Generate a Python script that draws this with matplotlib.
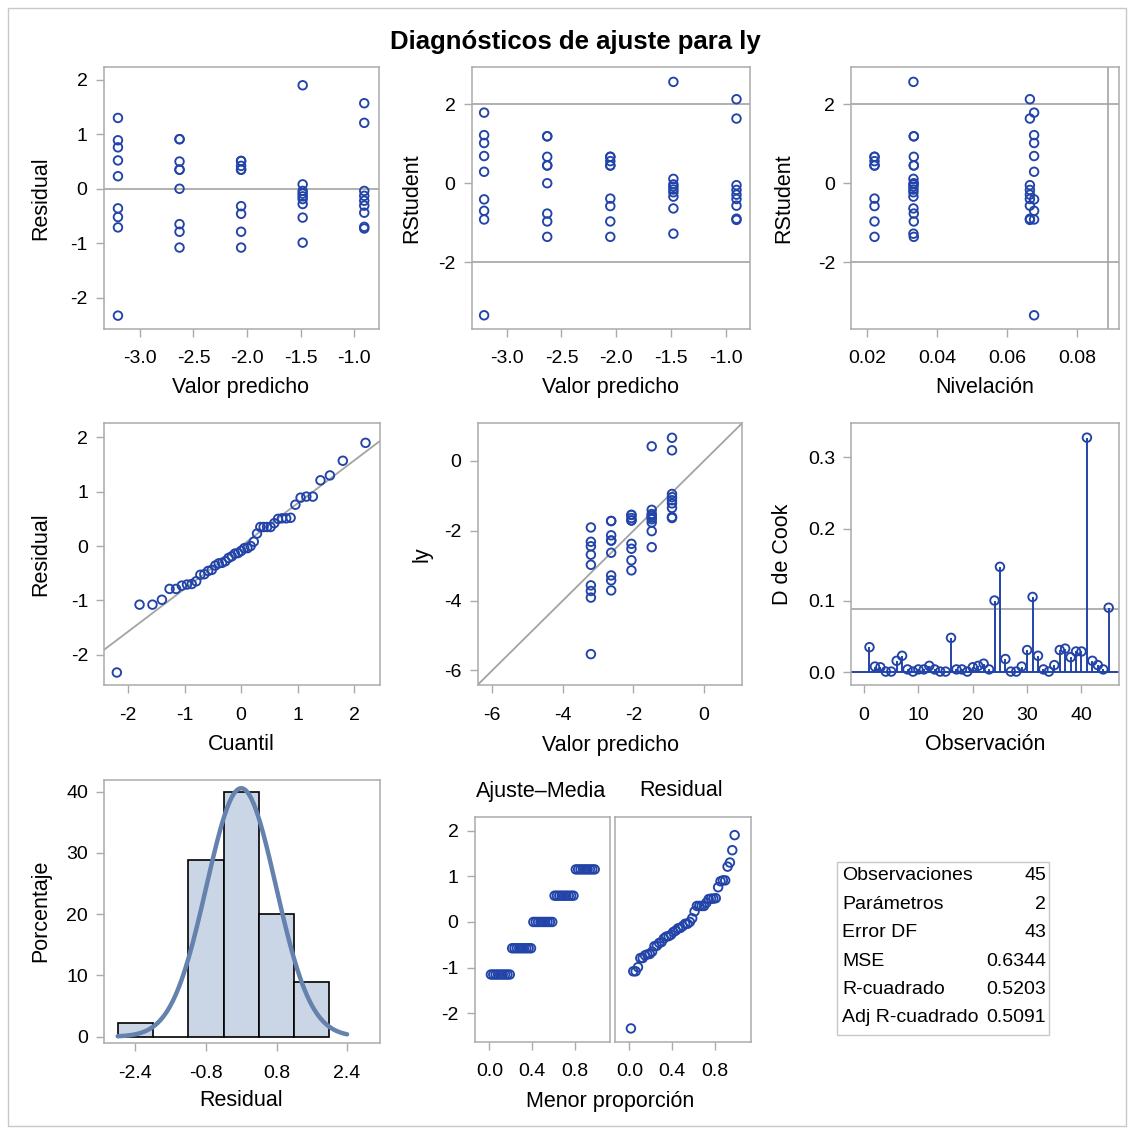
import numpy as np
import matplotlib
matplotlib.use('Agg')
import matplotlib.pyplot as plt
from matplotlib.patches import Rectangle
from matplotlib.ticker import FormatStrFormatter
from statistics import NormalDist

plt.rcParams['font.family'] = ['Liberation Sans', 'DejaVu Sans']
plt.rcParams['axes.unicode_minus'] = False

# ---------------- data ----------------
pred_levels = [-3.205, -2.630, -2.055, -1.480, -0.905]
leverage_levels = [0.0677, 0.0334, 0.0222, 0.0333, 0.0665]

resid_g1 = [1.30, 0.89, 0.76, 0.52, 0.23, -0.36, -0.52, -0.71, -2.33]
resid_g2 = [0.91, 0.91, 0.50, 0.35, 0.35, 0.00, -0.65, -0.79, -1.08]
resid_g3 = [0.51, 0.51, 0.42, 0.35, 0.35, -0.32, -0.46, -0.79, -1.08]
resid_g4 = [1.90, 0.08, -0.04, -0.09, -0.14, -0.19, -0.28, -0.53, -0.99]
resid_g5 = [1.57, 1.21, -0.04, -0.13, -0.22, -0.31, -0.44, -0.70, -0.73]

rstud_g1 = [1.79, 1.22, 1.02, 0.69, 0.29, -0.41, -0.70, -0.92, -3.35]
rstud_g2 = [1.19, 1.19, 0.67, 0.45, 0.45, 0.00, -0.77, -0.97, -1.36]
rstud_g3 = [0.67, 0.67, 0.56, 0.45, 0.45, -0.39, -0.58, -0.97, -1.36]
rstud_g4 = [2.57, 0.11, -0.03, -0.09, -0.16, -0.23, -0.34, -0.64, -1.28]
rstud_g5 = [2.13, 1.64, -0.05, -0.17, -0.29, -0.40, -0.57, -0.90, -0.93]

cooks_d = [0.035, 0.008, 0.007, 0.001, 0.001, 0.016, 0.023, 0.004, 0.001, 0.004,
           0.004, 0.009, 0.004, 0.001, 0.001, 0.048, 0.004, 0.004, 0.001, 0.007,
           0.009, 0.012, 0.004, 0.100, 0.147, 0.0185, 0.001, 0.001, 0.008, 0.031,
           0.105, 0.023, 0.004, 0.001, 0.010, 0.031, 0.033, 0.021, 0.029, 0.029,
           0.327, 0.016, 0.010, 0.004, 0.090]

rstud_cutoff = 2.0
leverage_cutoff = 0.0889
cook_cutoff = 0.0889
root_mse = 0.787
hist_edges = [-2.8, -2.0, -1.2, -0.4, 0.4, 1.2, 2.0]

stats_labels = ['Observaciones', 'Parámetros', 'Error DF', 'MSE', 'R-cuadrado', 'Adj R-cuadrado']
stats_values = ['45', '2', '43', '0.6344', '0.5203', '0.5091']

# ---------------- assemble ----------------
resid_groups = [resid_g1, resid_g2, resid_g3, resid_g4, resid_g5]
rstud_groups = [rstud_g1, rstud_g2, rstud_g3, rstud_g4, rstud_g5]
resid = np.concatenate(resid_groups)
rstud = np.concatenate(rstud_groups)
pred = np.concatenate([[p] * len(g) for p, g in zip(pred_levels, resid_groups)])
lev = np.concatenate([[h] * len(g) for h, g in zip(leverage_levels, resid_groups)])
observed = pred + resid
n = len(resid)

BLUE = '#2244A8'
REF = '#A3A3A3'
FRAME = '#ABABAB'
HIST_FILL = '#CAD5E6'
CURVE = '#6482AD'

W, H = 1134, 1133
fig = plt.figure(figsize=(W / 100, H / 100), dpi=100)
fig.patch.set_facecolor('white')

TICK_FS = 14
LAB_FS = 15.5


def ax_at(x0, y0, x1, y1):
    ax = fig.add_axes([x0 / W, 1 - y1 / H, (x1 - x0) / W, (y1 - y0) / H])
    for s in ax.spines.values():
        s.set_color(FRAME)
        s.set_linewidth(1.1)
    ax.tick_params(direction='out', length=6, width=1.0, color=FRAME,
                   labelsize=TICK_FS)
    ax.tick_params(axis='x', pad=9.5)
    ax.tick_params(axis='y', pad=5.5)
    return ax


def scat(ax, x, y, **kw):
    ax.scatter(x, y, s=38, facecolors='none', edgecolors=BLUE, linewidths=1.35,
               zorder=3, clip_on=False, **kw)


def ftext(x, y, s, **kw):
    fig.text(x / W, 1 - y / H, s, **kw)


# title
ftext(575, 42, 'Diagnósticos de ajuste para ly', ha='center', va='center',
      fontsize=18.5, fontweight='bold')

# outer border
fig.add_artist(Rectangle((8 / W, 1 - 1126 / H), 1118 / W, 1118 / H,
                         transform=fig.transFigure, fill=False,
                         edgecolor='#C8C8C8', linewidth=1.0))

# ---- Panel 1: residual vs predicted
ax1 = ax_at(103.5, 67.3, 378.7, 328.7)
ax1.axhline(0, color=REF, lw=1.2, zorder=1)
scat(ax1, pred, resid)
ax1.set_xlim(-3.34, -0.77)
ax1.set_ylim(-2.57, 2.23)
ax1.set_xticks([-3.0, -2.5, -2.0, -1.5, -1.0])
ax1.xaxis.set_major_formatter(FormatStrFormatter('%.1f'))
ax1.set_yticks([2, 1, 0, -1, -2])
ftext(241, 388, 'Valor predicho', ha='center', va='center', fontsize=LAB_FS)
ftext(41, 198, 'Residual', ha='center', va='center', rotation=90, fontsize=LAB_FS)

# ---- Panel 2: RStudent vs predicted
ax2 = ax_at(471.5, 67.3, 750.2, 328.7)
for c in (rstud_cutoff, -rstud_cutoff):
    ax2.axhline(c, color=REF, lw=1.2, zorder=1)
scat(ax2, pred, rstud)
ax2.set_xlim(-3.32, -0.78)
ax2.set_ylim(-3.69, 2.94)
ax2.set_xticks([-3.0, -2.5, -2.0, -1.5, -1.0])
ax2.xaxis.set_major_formatter(FormatStrFormatter('%.1f'))
ax2.set_yticks([2, 0, -2])
ftext(610, 388, 'Valor predicho', ha='center', va='center', fontsize=LAB_FS)
ftext(412, 198, 'RStudent', ha='center', va='center', rotation=90, fontsize=LAB_FS)

# ---- Panel 3: RStudent vs leverage
ax3 = ax_at(851, 67.3, 1119, 328.7)
for c in (rstud_cutoff, -rstud_cutoff):
    ax3.axhline(c, color=REF, lw=1.2, zorder=1)
ax3.axvline(leverage_cutoff, color=REF, lw=1.2, zorder=1)
scat(ax3, lev, rstud)
ax3.set_xlim(0.0155, 0.0919)
ax3.set_ylim(-3.69, 2.94)
ax3.set_xticks([0.02, 0.04, 0.06, 0.08])
ax3.xaxis.set_major_formatter(FormatStrFormatter('%.2f'))
ax3.set_yticks([2, 0, -2])
ftext(985, 388, 'Nivelación', ha='center', va='center', fontsize=LAB_FS)
ftext(784, 198, 'RStudent', ha='center', va='center', rotation=90, fontsize=LAB_FS)

# ---- Panel 4: Q-Q plot of residuals
ax4 = ax_at(104, 423.3, 379.5, 685)
r_sorted = np.sort(resid)
nd = NormalDist()
q = np.array([nd.inv_cdf((i + 1 - 0.375) / (n + 0.25)) for i in range(n)])
xl = np.array([-2.43, 2.45])
ax4.plot(xl, root_mse * xl, color=REF, lw=1.3, zorder=1)
scat(ax4, q, r_sorted)
ax4.set_xlim(-2.43, 2.45)
ax4.set_ylim(-2.56, 2.26)
ax4.set_xticks([-2, -1, 0, 1, 2])
ax4.set_yticks([2, 1, 0, -1, -2])
ftext(241, 745, 'Cuantil', ha='center', va='center', fontsize=LAB_FS)
ftext(41, 554, 'Residual', ha='center', va='center', rotation=90, fontsize=LAB_FS)

# ---- Panel 5: observed vs predicted
ax5 = ax_at(477.5, 423.3, 742, 685)
lim5 = [-6.42, 1.08]
ax5.plot(lim5, lim5, color=REF, lw=1.3, zorder=1)
scat(ax5, pred, observed)
ax5.set_xlim(*lim5)
ax5.set_ylim(*lim5)
ax5.set_xticks([-6, -4, -2, 0])
ax5.set_yticks([0, -2, -4, -6])
ftext(610, 745, 'Valor predicho', ha='center', va='center', fontsize=LAB_FS)
ftext(422, 554, 'ly', ha='center', va='center', rotation=90, fontsize=LAB_FS)

# ---- Panel 6: Cook's D
ax6 = ax_at(851, 423.3, 1119, 685)
obs = np.arange(1, n + 1)
ax6.axhline(cook_cutoff, color=REF, lw=1.2, zorder=1)
ax6.axhline(0, color=BLUE, lw=1.4, zorder=2)
ax6.vlines(obs, 0, cooks_d, color=BLUE, lw=1.4, zorder=2)
scat(ax6, obs, cooks_d)
ax6.set_xlim(-2.4, 46.9)
ax6.set_ylim(-0.0177, 0.347)
ax6.set_xticks([0, 10, 20, 30, 40])
ax6.set_yticks([0.0, 0.1, 0.2, 0.3])
ax6.yaxis.set_major_formatter(FormatStrFormatter('%.1f'))
ftext(985, 745, 'Observación', ha='center', va='center', fontsize=LAB_FS)
ftext(783, 554, 'D de Cook', ha='center', va='center', rotation=90, fontsize=LAB_FS)

# ---- Panel 7: histogram of residuals
ax7 = ax_at(104, 780, 380, 1043)
ax7.hist(resid, bins=hist_edges, weights=np.full(n, 100.0 / n),
         facecolor=HIST_FILL, edgecolor='black', linewidth=1.2, zorder=2)
bw = hist_edges[1] - hist_edges[0]
xc = np.linspace(hist_edges[0], 2.4, 200)
pdf = np.exp(-0.5 * (xc / root_mse) ** 2) / (root_mse * np.sqrt(2 * np.pi))
ax7.plot(xc, 100 * bw * pdf, color=CURVE, lw=3.2, zorder=3, solid_capstyle='round')
ax7.set_xlim(-3.11, 3.146)
ax7.set_ylim(-1.03, 41.9)
ax7.set_xticks([-2.4, -0.8, 0.8, 2.4])
ax7.xaxis.set_major_formatter(FormatStrFormatter('%.1f'))
ax7.set_yticks([0, 10, 20, 30, 40])
ftext(241, 1101, 'Residual', ha='center', va='center', fontsize=LAB_FS)
ftext(41, 911, 'Porcentaje', ha='center', va='center', rotation=90, fontsize=LAB_FS)

# ---- Panel 8: residual-fit spread plot
prop = np.array([(i + 1 - 0.375) / (n + 0.25) for i in range(n)])
fit_mean = np.sort(pred - np.mean(pred))
ax8a = ax_at(474.5, 817.3, 609.5, 1041.7)
ax8b = ax_at(614.5, 817.3, 750.5, 1041.7)
scat(ax8a, prop, fit_mean)
scat(ax8b, prop, r_sorted)
for a in (ax8a, ax8b):
    a.set_ylim(-2.62, 2.29)
    a.set_xticks([0.0, 0.4, 0.8])
    a.xaxis.set_major_formatter(FormatStrFormatter('%.1f'))
ax8a.set_xlim(-0.14, 1.125)
ax8b.set_xlim(-0.14, 1.135)
ax8a.set_yticks([2, 1, 0, -1, -2])
ax8b.set_yticks([])
ftext(541, 791, 'Ajuste–Media', ha='center', va='center', fontsize=LAB_FS)
ftext(681, 791, 'Residual', ha='center', va='center', fontsize=LAB_FS)
ftext(610, 1101, 'Menor proporción', ha='center', va='center', fontsize=LAB_FS)

# ---- Fit statistics table
fig.add_artist(Rectangle((837.3 / W, 1 - 1035 / H), (1049 - 837.3) / W, (1035 - 862.3) / H,
                         transform=fig.transFigure, fill=False,
                         edgecolor='#C8C8C8', linewidth=1.0))
row_y = [875.7, 904.3, 932.3, 961.0, 989.0, 1017.7]
for lab, val, yy in zip(stats_labels, stats_values, row_y):
    ftext(842.5, yy, lab, ha='left', va='center', fontsize=TICK_FS)
    ftext(1046, yy, val, ha='right', va='center', fontsize=TICK_FS)

fig.savefig('out.png', dpi=100)
